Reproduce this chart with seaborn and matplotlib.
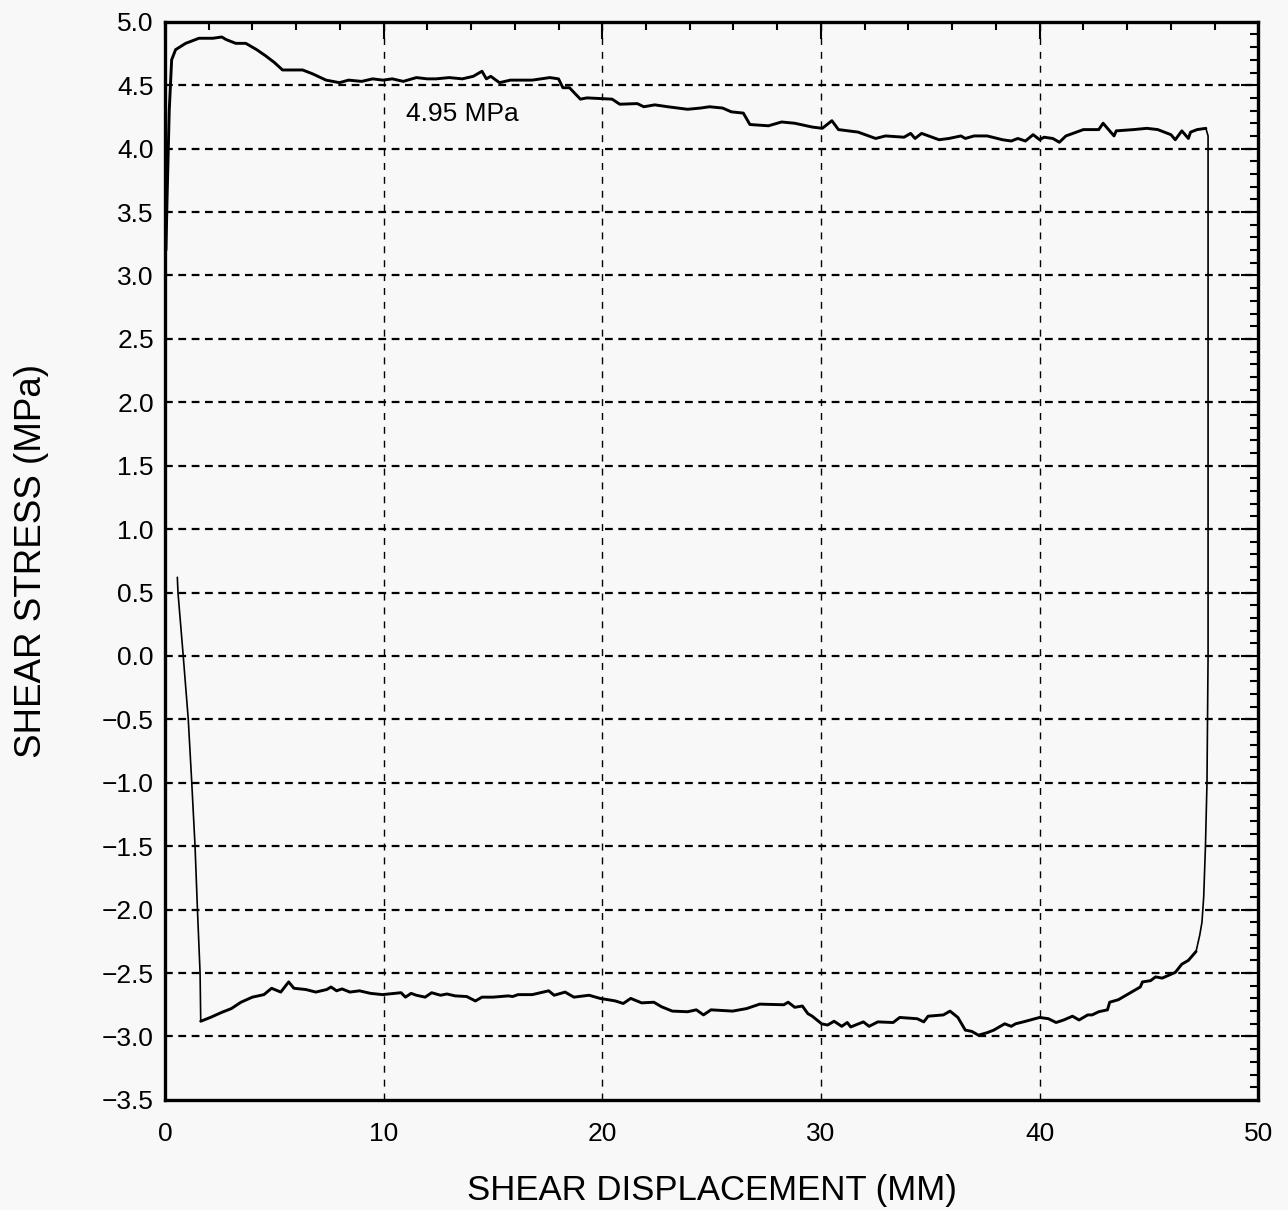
import numpy as np
import pandas as pd
import matplotlib
matplotlib.use("Agg")
import matplotlib.pyplot as plt
import seaborn as sns
from matplotlib.ticker import MultipleLocator

# ---- data ----
top_x = [0.05, 0.1, 0.2, 0.31, 0.49, 0.95, 1.56, 2.2, 2.6, 2.8, 3.24, 3.7, 4.2, 4.62, 5.0, 5.38,
         6.3, 6.75, 7.37, 7.98, 8.4, 9.0, 9.5, 9.97, 10.4, 10.9, 11.5, 12.0, 12.4, 13.0, 13.6,
         14.1, 14.5, 14.7, 14.9, 15.3, 15.8, 16.8, 17.6, 18.0, 18.2, 18.5, 19.0, 19.3, 20.45,
         20.8, 21.6, 21.9, 22.4, 23.0, 23.9, 24.5, 24.9, 25.5, 25.9, 26.45, 26.75, 27.6, 28.2,
         28.8, 29.6, 30.06, 30.5, 30.8, 31.7, 32.5, 32.95, 33.8, 34.1, 34.3, 34.6, 35.4, 35.85,
         36.4, 36.6, 37.0, 37.6, 38.3, 38.7, 39.0, 39.35, 39.7, 40.0, 40.2, 40.6, 40.9, 41.2,
         42.0, 42.7, 42.9, 43.4, 43.5, 44.3, 44.9, 45.4, 46.0, 46.2, 46.5, 46.8, 46.9, 47.2, 47.6]
top_y = [3.2, 3.6, 4.3, 4.70, 4.78, 4.83, 4.87, 4.87, 4.88, 4.86, 4.83, 4.83, 4.78, 4.73, 4.68, 4.62,
         4.62, 4.59, 4.54, 4.52, 4.54, 4.53, 4.55, 4.54, 4.55, 4.53, 4.56, 4.55, 4.55, 4.56, 4.55,
         4.57, 4.61, 4.55, 4.57, 4.52, 4.54, 4.54, 4.56, 4.55, 4.48, 4.48, 4.39, 4.40, 4.39,
         4.35, 4.355, 4.33, 4.345, 4.33, 4.31, 4.32, 4.33, 4.32, 4.29, 4.28, 4.19, 4.18, 4.21,
         4.20, 4.17, 4.16, 4.22, 4.15, 4.13, 4.08, 4.10, 4.09, 4.12, 4.08, 4.12, 4.07, 4.08,
         4.10, 4.08, 4.10, 4.10, 4.07, 4.06, 4.08, 4.06, 4.11, 4.07, 4.09, 4.08, 4.05, 4.10,
         4.15, 4.15, 4.20, 4.10, 4.14, 4.15, 4.16, 4.15, 4.11, 4.07, 4.14, 4.08, 4.13, 4.15, 4.16]

right_x = [47.6, 47.7, 47.7, 47.65, 47.58, 47.5, 47.42, 47.32, 47.15]
right_y = [4.16, 4.10, 0.0, -1.0, -1.5, -1.9, -2.1, -2.2, -2.33]

bottom_x = [47.15, 46.8, 46.5, 46.2, 45.6, 45.3, 45.07, 44.7, 44.6, 44.1, 43.6, 43.2, 43.1, 42.7,
            42.4, 42.2, 41.8, 41.5, 41.1, 40.75, 40.4, 40.0, 39.25, 38.9, 38.7, 38.4, 37.9, 37.6,
            37.2, 36.9, 36.6, 36.26, 35.9, 35.6, 34.9, 34.7, 34.4, 33.6, 33.3, 32.6, 32.2, 31.94,
            31.36, 31.2, 30.95, 30.6, 30.3, 30.03, 29.6, 29.4, 29.15, 28.8, 28.5, 28.3, 27.2, 26.6,
            25.96, 24.97, 24.63, 24.3, 23.9, 23.2, 22.7, 22.36, 21.8, 21.3, 20.96, 20.6, 20.26,
            19.9, 19.4, 18.7, 18.3, 17.8, 17.55, 16.8, 16.15, 15.9, 15.7, 15.0, 14.5, 14.2, 13.8,
            13.27, 12.9, 12.6, 12.2, 11.9, 11.5, 11.26, 11.0, 10.8, 9.95, 9.4, 8.9, 8.46, 8.1, 7.85,
            7.6, 7.4, 6.9, 6.45, 5.9, 5.66, 5.3, 4.88, 4.53, 4.0, 3.48, 3.04, 2.6, 2.08, 1.64]
bottom_y = [-2.33, -2.40, -2.43, -2.495, -2.54, -2.53, -2.56, -2.57, -2.61, -2.66, -2.71, -2.73,
            -2.79, -2.805, -2.83, -2.83, -2.87, -2.84, -2.87, -2.89, -2.86, -2.85, -2.885, -2.90,
            -2.92, -2.90, -2.95, -2.97, -2.99, -2.96, -2.95, -2.85, -2.80, -2.83, -2.84, -2.885,
            -2.86, -2.85, -2.89, -2.885, -2.92, -2.885, -2.925, -2.89, -2.92, -2.88, -2.91, -2.90,
            -2.84, -2.82, -2.76, -2.77, -2.73, -2.75, -2.745, -2.78, -2.80, -2.79, -2.83, -2.79,
            -2.805, -2.80, -2.765, -2.73, -2.735, -2.70, -2.74, -2.72, -2.71, -2.70, -2.675, -2.69,
            -2.65, -2.675, -2.64, -2.67, -2.67, -2.685, -2.68, -2.69, -2.69, -2.72, -2.685, -2.68,
            -2.665, -2.675, -2.655, -2.69, -2.675, -2.66, -2.69, -2.655, -2.67, -2.66, -2.64, -2.65,
            -2.625, -2.64, -2.61, -2.63, -2.65, -2.63, -2.62, -2.57, -2.65, -2.62, -2.67, -2.69,
            -2.73, -2.78, -2.81, -2.85, -2.88]

left_x = [1.64, 1.61, 1.49, 1.38, 1.23, 1.07, 0.84, 0.6, 0.57]
left_y = [-2.88, -2.5, -2.0, -1.5, -1.0, -0.5, 0.0, 0.5, 0.62]

x_ticks = [0, 10, 20, 30, 40, 50]
y_ticks = [-3.5, -3.0, -2.5, -2.0, -1.5, -1.0, -0.5, 0.0, 0.5, 1.0, 1.5, 2.0, 2.5, 3.0, 3.5, 4.0, 4.5, 5.0]
annotation = "4.95 MPa"
x_label = "SHEAR DISPLACEMENT (MM)"
y_label = "SHEAR STRESS (MPa)"

# ---- plot ----
sns.set_style("white")
plt.rcParams['font.family'] = ['Liberation Sans', 'DejaVu Sans']
plt.rcParams['text.color'] = 'black'
plt.rcParams['axes.labelcolor'] = 'black'
bg = '#f8f8f8'
fig = plt.figure(figsize=(12.88, 12.10), dpi=100, facecolor=bg)
ax = fig.add_axes([0.128, 0.091, 0.849, 0.891])
ax.set_facecolor(bg)

segments = [(top_x, top_y, 2.1), (right_x, right_y, 1.2), (bottom_x, bottom_y, 2.1), (left_x, left_y, 1.2)]
for sx, sy, lw in segments:
    df = pd.DataFrame({'x': sx, 'y': sy})
    sns.lineplot(data=df, x='x', y='y', sort=False, estimator=None, color='black', lw=lw, ax=ax)

ax.set_xlim(0, 50)
ax.set_ylim(-3.5, 5.0)
ax.set_xticks(x_ticks)
ax.set_yticks(y_ticks)
ax.set_yticklabels([f"{v:.1f}".replace('-', '\u2212') for v in y_ticks])
ax.xaxis.set_minor_locator(MultipleLocator(2))
ax.yaxis.set_minor_locator(MultipleLocator(0.1))
ax.tick_params(which='both', direction='in', top=True, right=True, labelsize=19,
               colors='black', labelcolor='black', width=1.5)
ax.tick_params(axis='x', which='major', length=12, pad=16)
ax.tick_params(axis='y', which='major', length=12, pad=8)
ax.tick_params(which='minor', length=6)
for s in ax.spines.values():
    s.set_linewidth(2.4)
    s.set_color('black')

for xv in x_ticks[1:-1]:
    ax.axvline(xv, color='black', lw=1.0, ls=(0, (5, 5)), zorder=0.5)
for yv in y_ticks[1:-1]:
    ax.axhline(yv, color='black', lw=1.6, ls=(0, (3.5, 2.5)), zorder=0.5)

ax.text(13.6, 4.27, annotation, fontsize=19, ha='center', va='center', color='black')
ax.set_xlabel(x_label, fontsize=25, labelpad=20, color='black')
ax.set_ylabel(y_label, fontsize=26.5, labelpad=38, color='black')

fig.savefig('out.png', dpi=100, facecolor=bg)
